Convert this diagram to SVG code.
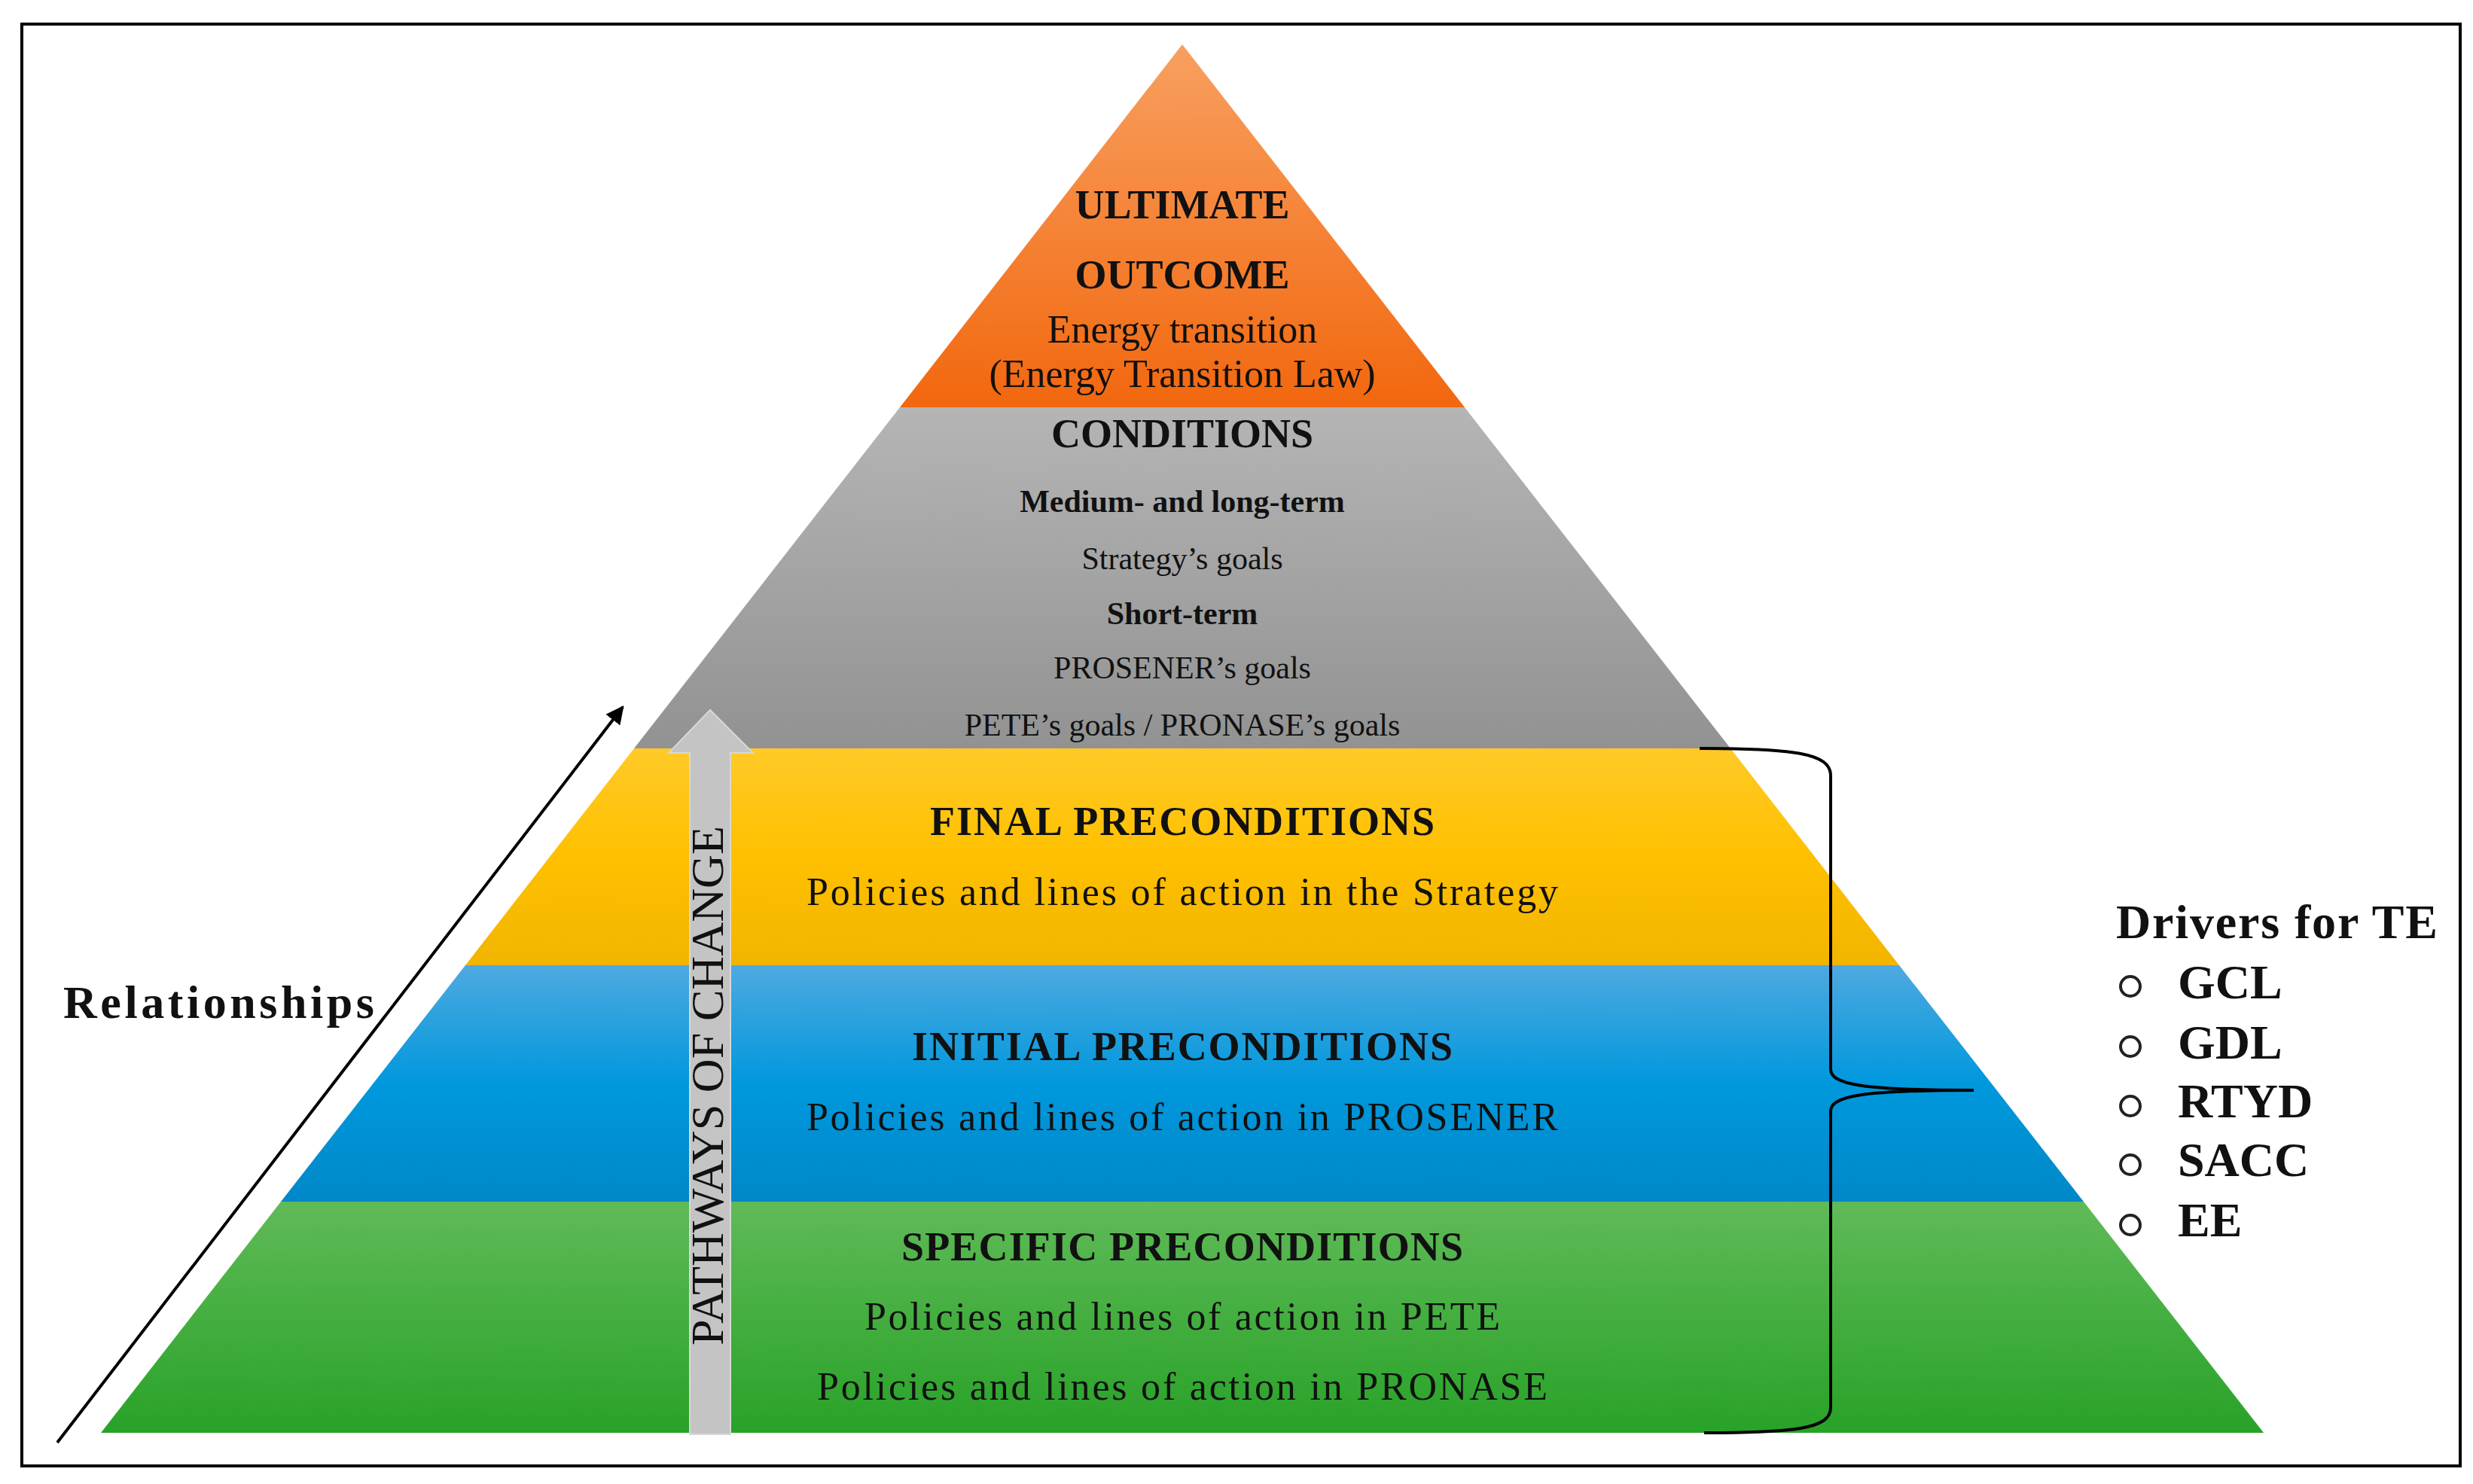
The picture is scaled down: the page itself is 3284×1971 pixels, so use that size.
<svg xmlns="http://www.w3.org/2000/svg" width="3284" height="1971" viewBox="0 0 3284 1971">
<style>
text{font-family:"Liberation Serif","DejaVu Serif",serif;fill:#111;text-anchor:middle}
.b{font-weight:bold}
.h{font-size:54px;font-weight:bold}
.p{font-size:52px}
.s{font-size:42px}
.d{font-size:64px;font-weight:bold;text-anchor:start}
</style>
<defs>
<linearGradient id="go" x1="0" y1="0" x2="0" y2="1"><stop offset="0" stop-color="#F8A060"/><stop offset="1" stop-color="#F2670E"/></linearGradient>
<linearGradient id="gg" x1="0" y1="0" x2="0" y2="1"><stop offset="0" stop-color="#B5B5B5"/><stop offset="1" stop-color="#929292"/></linearGradient>
<linearGradient id="gy" x1="0" y1="0" x2="0" y2="1"><stop offset="0" stop-color="#FFCA28"/><stop offset="0.5" stop-color="#FFC000"/><stop offset="1" stop-color="#F2B500"/></linearGradient>
<linearGradient id="gb" x1="0" y1="0" x2="0" y2="1"><stop offset="0" stop-color="#4FA9E0"/><stop offset="0.5" stop-color="#0098DD"/><stop offset="1" stop-color="#0088C8"/></linearGradient>
<linearGradient id="gn" x1="0" y1="0" x2="0" y2="1"><stop offset="0" stop-color="#60BA58"/><stop offset="1" stop-color="#28A228"/></linearGradient>
<marker id="ah" viewBox="0 0 10 10" refX="9" refY="5" markerWidth="6" markerHeight="6" orient="auto"><path d="M0,0 L10,5 L0,10 z" fill="#000"/></marker>
</defs>
<rect x="29" y="32" width="3238" height="1915" fill="#fff" stroke="#000" stroke-width="4"/>
<g id="ultimate">
<polygon points="1570,59 1945,541 1195,541" fill="url(#go)"/>
<text class="h" x="1570" y="290">ULTIMATE</text>
<text class="h" x="1570" y="383">OUTCOME</text>
<text class="p" x="1570" y="455">Energy transition</text>
<text class="p" x="1570" y="514">(Energy Transition  Law)</text>
</g>
<g id="conditions">
<polygon points="1195,541 1945,541 2298,994 842,994" fill="url(#gg)"/>
<text class="h" x="1570" y="594">CONDITIONS</text>
<text class="s b" x="1570" y="680">Medium- and long-term</text>
<text class="s" x="1570" y="756">Strategy’s goals</text>
<text class="s b" x="1570" y="829">Short-term</text>
<text class="s" x="1570" y="901">PROSENER’s goals</text>
<text class="s" x="1570" y="977">PETE’s goals / PRONASE’s goals</text>
</g>
<g id="final">
<polygon points="842,994 2298,994 2522,1282 618,1282" fill="url(#gy)"/>
<text class="h" x="1570" y="1109" textLength="670">FINAL PRECONDITIONS</text>
<text class="p" x="1570" y="1202" textLength="998">Policies and lines of action in the Strategy</text>
</g>
<g id="initial">
<polygon points="618,1282 2522,1282 2767,1596 373,1596" fill="url(#gb)"/>
<text class="h" x="1570" y="1408" textLength="718">INITIAL PRECONDITIONS</text>
<text class="p" x="1570" y="1501" textLength="998">Policies and lines of action in PROSENER</text>
</g>
<g id="specific">
<polygon points="373,1596 2767,1596 3006,1903 134,1903" fill="url(#gn)"/>
<text class="h" x="1570" y="1674" textLength="746">SPECIFIC PRECONDITIONS</text>
<text class="p" x="1570" y="1766" textLength="844">Policies and lines of action in PETE</text>
<text class="p" x="1570" y="1859" textLength="970">Policies and lines of action in PRONASE</text>
</g>
<g id="pathways">
<polygon points="943,943 1000,1000 970,1000 970,1905 916,1905 916,1000 888,1000" fill="#C4C4C4" stroke="#d8d8d8" stroke-width="2"/>
<text x="0" y="0" transform="translate(960,1442) rotate(-90)" style="font-size:62px" textLength="690" lengthAdjust="spacingAndGlyphs">PATHWAYS OF CHANGE</text>
</g>
<g id="connectors">
<line x1="76" y1="1916" x2="827" y2="939" stroke="#000" stroke-width="4" marker-end="url(#ah)"/>
<path d="M2257,994 C2380,994 2431,1000 2431,1030 L2431,1420 C2431,1440 2470,1448 2621,1448 C2470,1448 2431,1456 2431,1476 L2431,1870 C2431,1898 2380,1903 2263,1903" fill="none" stroke="#000" stroke-width="4"/>
</g>
<g id="relationships">
<text class="b" x="84" y="1352" style="font-size:62px;text-anchor:start" textLength="413">Relationships</text>
</g>
<g id="drivers">
<text class="d" x="2810" y="1246" textLength="427">Drivers for TE</text>
<g fill="none" stroke="#222" stroke-width="4">
<circle cx="2829" cy="1310" r="13"/><circle cx="2829" cy="1390" r="13"/><circle cx="2829" cy="1469" r="13"/><circle cx="2829" cy="1547" r="13"/><circle cx="2829" cy="1627" r="13"/>
</g>
<text class="d" x="2892" y="1326">GCL</text>
<text class="d" x="2892" y="1406">GDL</text>
<text class="d" x="2892" y="1484">RTYD</text>
<text class="d" x="2892" y="1562">SACC</text>
<text class="d" x="2892" y="1642">EE</text>
</g>
</svg>
